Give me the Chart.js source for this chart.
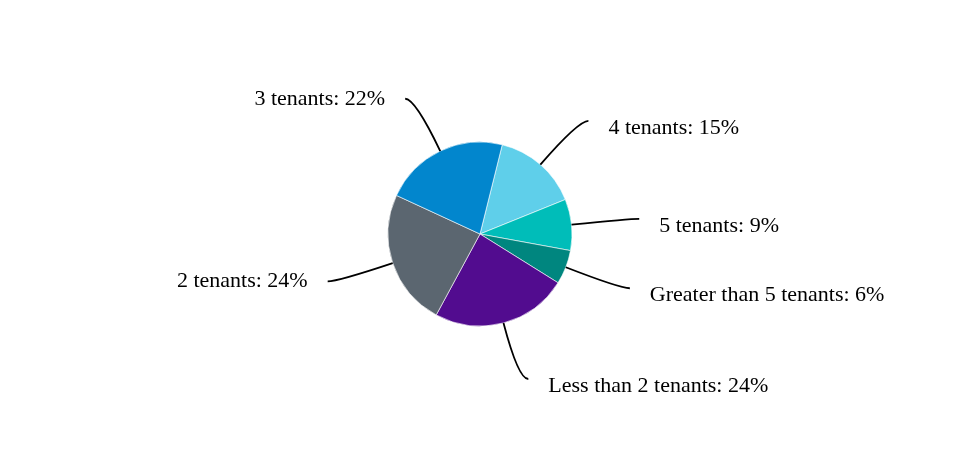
<!DOCTYPE html>
<html>
<head>
<meta charset="utf-8">
<script src="https://cdn.jsdelivr.net/npm/chart.js@4/dist/chart.umd.min.js"></script>
<style>
html,body{margin:0;padding:0;background:#fff;}
#wrap{width:960px;height:466px;position:relative;}
</style>
</head>
<body>
<div id="wrap"><canvas id="c" width="960" height="466"></canvas></div>
<script>
const categories = ['4 tenants', '5 tenants', 'Greater than 5 tenants', 'Less than 2 tenants', '2 tenants', '3 tenants'];
const shares = [15, 9, 6, 24, 24, 22];
const sliceColors = ['#5fcfea', '#00bdb9', '#00867f', '#520c8f', '#5b6670', '#0286cd'];

const leaderPlugin = {
  id: 'leaders',
  afterDatasetsDraw(chart) {
    const ctx = chart.ctx;
    const meta = chart.getDatasetMeta(0);
    ctx.save();
    ctx.font = '22px "Liberation Serif", "Times New Roman", serif';
    ctx.fillStyle = '#000';
    ctx.strokeStyle = '#000';
    ctx.lineWidth = 1.8;
    meta.data.forEach((arc, i) => {
      const p = arc.getProps(['x', 'y', 'startAngle', 'endAngle', 'outerRadius'], true);
      const mid = (p.startAngle + p.endAngle) / 2;
      const cx = Math.cos(mid), sy = Math.sin(mid);
      const side = cx >= 0 ? 1 : -1;
      const x0 = p.x + p.outerRadius * cx, y0 = p.y + p.outerRadius * sy;
      const re = p.outerRadius + 58;
      const xe = p.x + re * cx, ye = p.y + re * sy;
      const x2 = xe + side * 10, y2 = ye;
      ctx.beginPath();
      ctx.moveTo(x0, y0);
      ctx.quadraticCurveTo(xe, ye, x2, y2);
      ctx.stroke();
      ctx.textAlign = side > 0 ? 'left' : 'right';
      ctx.textBaseline = 'middle';
      const text = categories[i] + ': ' + shares[i] + '%';
      ctx.fillText(text, x2 + side * 20, y2 + (side > 0 ? 7 : 0));
    });
    ctx.restore();
  }
};

new Chart(document.getElementById('c'), {
  type: 'pie',
  data: {
    labels: categories,
    datasets: [{
      data: shares,
      backgroundColor: sliceColors,
      borderColor: '#ffffff',
      borderWidth: 0.6,
      radius: 92
    }]
  },
  options: {
    responsive: false,
    animation: false,
    rotation: 14,
    layout: { padding: { top: 20, bottom: 18, left: 100, right: 100 } },
    plugins: { legend: { display: false }, tooltip: { enabled: false } }
  },
  plugins: [leaderPlugin]
});
</script>
</body>
</html>
